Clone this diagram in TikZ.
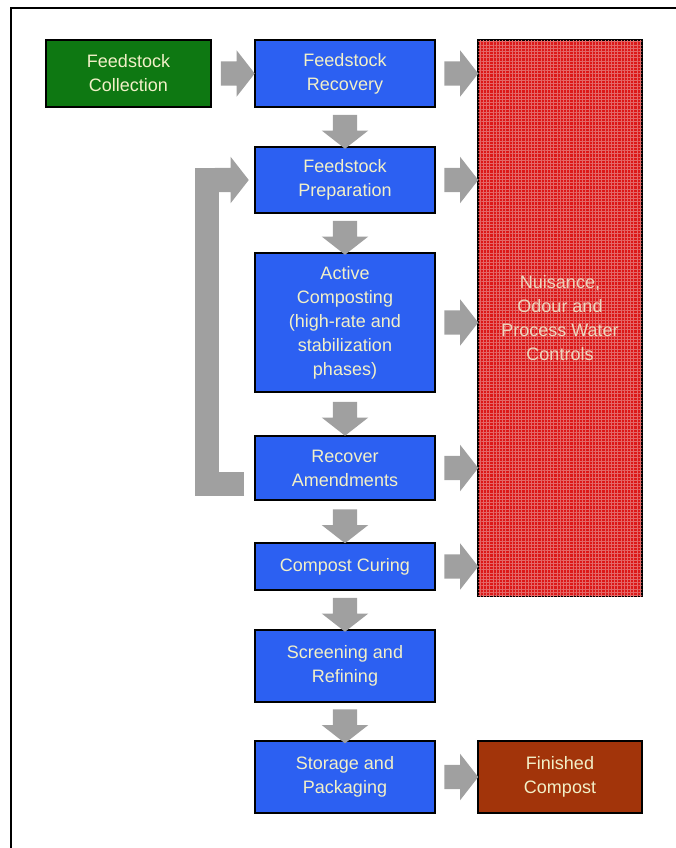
\documentclass[tikz,border=0pt]{standalone}
\usepackage{fontspec}
\setmainfont{Liberation Sans}
\usetikzlibrary{shapes.arrows,patterns.meta,calc}
\definecolor{boxblue}{RGB}{44,96,242}
\definecolor{boxgreen}{RGB}{14,120,18}
\definecolor{boxbrown}{RGB}{162,52,10}
\definecolor{ctrlred}{RGB}{220,24,24}
\definecolor{gridpink}{RGB}{228,104,104}
\definecolor{boxtext}{RGB}{242,240,200}
\definecolor{ctrltext}{RGB}{236,214,190}
\definecolor{arrowgray}{RGB}{160,160,160}
\begin{document}
\begin{tikzpicture}[x=1pt,y=-1pt,
  box/.style={draw=black, line width=2pt, text=boxtext, align=center,
    font=\fontsize{18}{24}\selectfont, inner sep=0pt},
  stage/.style={box, fill=boxblue, minimum width=180pt},
  rightarrow/.style={single arrow, fill=arrowgray, draw=none, inner sep=12pt,
    minimum height=33pt, single arrow head extend=11pt,
    single arrow tip angle=104},
  downarrow/.style={rightarrow, shape border rotate=270}]
  % page and outer frame
  \fill[white] (0,0) rectangle (676,848);
  \clip (0,0) rectangle (676,848);
  \draw[line width=2pt] (11,870) -- (11,8) -- (700,8);

  % process stages
  \node[box, fill=boxgreen, minimum width=165pt, minimum height=67pt] (col) at (128.5,73.5) {Feedstock\\Collection};
  \node[stage, minimum height=67pt] (rec) at (345,73.5) {Feedstock\\Recovery};
  \node[stage, minimum height=66pt] (prep) at (345,180) {Feedstock\\Preparation};
  \node[stage, minimum height=139pt] (act) at (345,322.5) {Active\\Composting\\(high-rate and\\stabilization\\phases)};
  \node[stage, minimum height=64pt] (amend) at (345,468) {Recover\\Amendments};
  \node[stage, minimum height=47pt] (cure) at (345,566.5) {Compost Curing};
  \node[stage, minimum height=72pt] (screen) at (345,666) {Screening and\\Refining};
  \node[stage, minimum height=72pt] (store) at (345,777) {Storage and\\Packaging};

  % controls and product
  \node[box, fill=ctrlred, minimum width=164pt, minimum height=556pt,
    postaction={pattern={Lines[angle=0,distance=3.2pt,line width=0.4pt]}, pattern color=gridpink},
    postaction={pattern={Lines[angle=90,distance=3.2pt,line width=0.4pt]}, pattern color=gridpink}]
    (ctrl) at (560,318) {};
  \node[text=ctrltext, align=center, font=\fontsize{18}{24}\selectfont] at (ctrl) {Nuisance,\\Odour and\\Process Water\\Controls};
  \node[box, fill=boxbrown, minimum width=164pt, minimum height=72pt] (fin) at (560,777) {Finished\\Compost};

  % main flow
  \path (col.east) -- (rec.west) node[midway, rightarrow] {};
  \path (rec.south) -- (prep.north) node[midway, downarrow] {};
  \path (prep.south) -- (act.north) node[midway, downarrow] {};
  \path (act.south) -- (amend.north) node[midway, downarrow] {};
  \path (amend.south) -- (cure.north) node[midway, downarrow] {};
  \path (cure.south) -- (screen.north) node[midway, downarrow] {};
  \path (screen.south) -- (store.north) node[midway, downarrow] {};
  \path (store.east) -- (fin.west) node[midway, rightarrow] {};

  % links to the controls
  \foreach \s in {rec,prep,act,amend,cure}
    \path (\s.east) -- (\s.east -| ctrl.west) node[midway, rightarrow] {};

  % amendments returned to preparation
  \draw[arrowgray, line width=24pt, line join=miter]
    ($(amend.west)+(-10,15.5)$) -| ($(prep.west)+(-47.5,0)$) -- ($(prep.west)+(-20,0)$);
  \node[rightarrow, anchor=tip] (back) at ($(prep.west)+(-5,0)$) {};
\end{tikzpicture}
\end{document}
